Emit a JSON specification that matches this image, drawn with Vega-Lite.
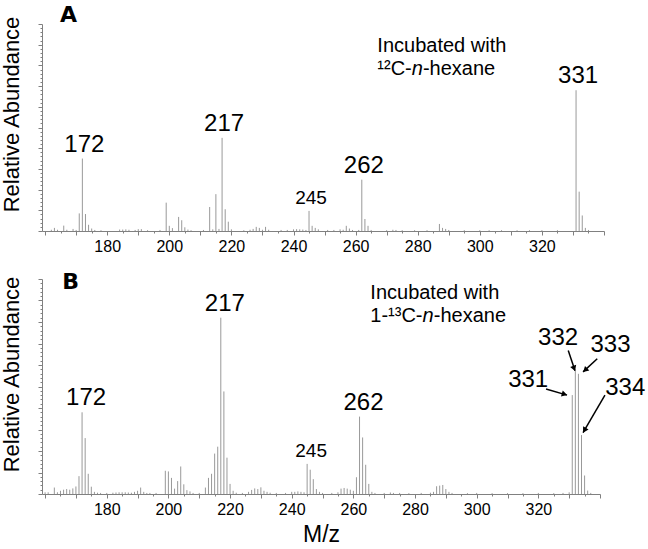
{
  "$schema": "https://vega.github.io/schema/vega-lite/v6.json",
  "padding": {"left": 0, "top": 3, "right": 0, "bottom": 0},
  "spacing": 17,
  "config": {
    "font": "Liberation Sans",
    "view": {"stroke": null},
    "axis": {"grid": false, "domainColor": "#808080", "tickColor": "#808080", "labelColor": "#000000", "titleColor": "#000000", "titleFontWeight": "normal", "labelFont": "Liberation Sans", "titleFont": "Liberation Sans", "labelFlush": false, "labelOverlap": false},
    "text": {"font": "Liberation Sans", "color": "#000000"}
  },
  "datasets": {
    "peaksA": [
      {"mz":162,"ab":0.6},{"mz":163,"ab":1.5},{"mz":164,"ab":0.6},{"mz":166,"ab":2.6},{"mz":167,"ab":0.6},{"mz":169,"ab":1},{"mz":170,"ab":0.5},{"mz":171,"ab":8.5},{"mz":172,"ab":35},{"mz":173,"ab":8.2},{"mz":174,"ab":3},{"mz":175,"ab":1.2},{"mz":176,"ab":0.5},{"mz":178,"ab":0.4},{"mz":184,"ab":0.7},{"mz":185,"ab":0.7},{"mz":186,"ab":0.8},{"mz":187,"ab":0.6},{"mz":189,"ab":0.5},{"mz":190,"ab":0.9},{"mz":191,"ab":0.9},{"mz":193,"ab":0.4},{"mz":197,"ab":0.5},{"mz":199,"ab":13.7},{"mz":200,"ab":2.5},{"mz":201,"ab":1.4},{"mz":203,"ab":6.8},{"mz":204,"ab":5.2},{"mz":205,"ab":1.8},{"mz":206,"ab":0.7},{"mz":207,"ab":0.4},{"mz":211,"ab":0.5},{"mz":213,"ab":11.6},{"mz":214,"ab":0.8},{"mz":215,"ab":17.8},{"mz":216,"ab":1},{"mz":217,"ab":45},{"mz":218,"ab":10.5},{"mz":219,"ab":4.5},{"mz":220,"ab":0.8},{"mz":224,"ab":0.4},{"mz":226,"ab":0.6},{"mz":227,"ab":1},{"mz":228,"ab":2},{"mz":229,"ab":1.5},{"mz":230,"ab":0.6},{"mz":231,"ab":2},{"mz":232,"ab":0.6},{"mz":236,"ab":0.5},{"mz":238,"ab":0.5},{"mz":240,"ab":0.8},{"mz":241,"ab":0.9},{"mz":242,"ab":0.8},{"mz":243,"ab":0.7},{"mz":244,"ab":0.5},{"mz":245,"ab":9.7},{"mz":246,"ab":2.5},{"mz":247,"ab":1.5},{"mz":248,"ab":0.8},{"mz":251,"ab":0.5},{"mz":253,"ab":0.5},{"mz":255,"ab":0.8},{"mz":256,"ab":0.6},{"mz":257,"ab":2.5},{"mz":258,"ab":1.2},{"mz":259,"ab":0.5},{"mz":261,"ab":0.5},{"mz":262,"ab":24.8},{"mz":263,"ab":5.8},{"mz":264,"ab":2.5},{"mz":265,"ab":0.5},{"mz":270,"ab":0.4},{"mz":272,"ab":0.6},{"mz":273,"ab":0.5},{"mz":275,"ab":0.4},{"mz":279,"ab":0.4},{"mz":283,"ab":0.4},{"mz":287,"ab":3.4},{"mz":288,"ab":1.5},{"mz":289,"ab":1},{"mz":290,"ab":0.5},{"mz":295,"ab":0.4},{"mz":300,"ab":0.4},{"mz":303,"ab":0.4},{"mz":307,"ab":0.4},{"mz":312,"ab":0.4},{"mz":316,"ab":0.4},{"mz":320,"ab":0.4},{"mz":325,"ab":0.4},{"mz":331,"ab":68},{"mz":332,"ab":19},{"mz":333,"ab":7.5},{"mz":334,"ab":1.5},{"mz":335,"ab":0.5}
    ],
    "peaksB": [
      {"mz":160,"ab":0.8},{"mz":161,"ab":0.8},{"mz":163,"ab":3},{"mz":164,"ab":0.8},{"mz":165,"ab":1.5},{"mz":166,"ab":2},{"mz":167,"ab":2.3},{"mz":168,"ab":2},{"mz":169,"ab":2.6},{"mz":170,"ab":3.5},{"mz":171,"ab":8.3},{"mz":172,"ab":38},{"mz":173,"ab":26},{"mz":174,"ab":9.4},{"mz":175,"ab":3.4},{"mz":176,"ab":1},{"mz":177,"ab":0.6},{"mz":178,"ab":0.5},{"mz":180,"ab":0.5},{"mz":182,"ab":0.6},{"mz":183,"ab":0.7},{"mz":184,"ab":0.8},{"mz":185,"ab":0.8},{"mz":186,"ab":0.8},{"mz":187,"ab":0.7},{"mz":188,"ab":0.6},{"mz":189,"ab":1},{"mz":190,"ab":1.5},{"mz":191,"ab":3},{"mz":192,"ab":1},{"mz":193,"ab":0.5},{"mz":194,"ab":0.5},{"mz":196,"ab":0.5},{"mz":199,"ab":10.8},{"mz":200,"ab":10.5},{"mz":201,"ab":7.5},{"mz":202,"ab":2.5},{"mz":203,"ab":6},{"mz":204,"ab":12.8},{"mz":205,"ab":4.5},{"mz":206,"ab":1.8},{"mz":207,"ab":1.2},{"mz":208,"ab":0.5},{"mz":210,"ab":0.5},{"mz":212,"ab":3},{"mz":213,"ab":7.5},{"mz":214,"ab":9.4},{"mz":215,"ab":18.8},{"mz":216,"ab":22},{"mz":217,"ab":82},{"mz":218,"ab":47.7},{"mz":219,"ab":16.9},{"mz":220,"ab":4.7},{"mz":221,"ab":1.5},{"mz":222,"ab":0.6},{"mz":224,"ab":0.5},{"mz":226,"ab":1},{"mz":227,"ab":1.9},{"mz":228,"ab":2.6},{"mz":229,"ab":2.3},{"mz":230,"ab":3.1},{"mz":231,"ab":1.5},{"mz":232,"ab":1},{"mz":233,"ab":0.6},{"mz":235,"ab":0.5},{"mz":238,"ab":0.5},{"mz":240,"ab":1},{"mz":241,"ab":1},{"mz":242,"ab":1.2},{"mz":243,"ab":1},{"mz":244,"ab":0.8},{"mz":245,"ab":14},{"mz":246,"ab":11.3},{"mz":247,"ab":6.9},{"mz":248,"ab":2.3},{"mz":249,"ab":1},{"mz":250,"ab":0.5},{"mz":253,"ab":0.5},{"mz":255,"ab":0.8},{"mz":256,"ab":2.5},{"mz":257,"ab":2.8},{"mz":258,"ab":2.5},{"mz":259,"ab":2},{"mz":260,"ab":1.5},{"mz":261,"ab":7.8},{"mz":262,"ab":36},{"mz":263,"ab":26.3},{"mz":264,"ab":13.6},{"mz":265,"ab":4.7},{"mz":266,"ab":1},{"mz":267,"ab":0.5},{"mz":270,"ab":0.5},{"mz":272,"ab":0.7},{"mz":273,"ab":0.5},{"mz":275,"ab":0.5},{"mz":278,"ab":0.4},{"mz":282,"ab":0.5},{"mz":285,"ab":0.6},{"mz":286,"ab":1},{"mz":287,"ab":3.6},{"mz":288,"ab":3.9},{"mz":289,"ab":4.2},{"mz":290,"ab":2.3},{"mz":291,"ab":1},{"mz":292,"ab":0.5},{"mz":297,"ab":0.4},{"mz":300,"ab":0.5},{"mz":305,"ab":0.4},{"mz":310,"ab":0.4},{"mz":315,"ab":0.4},{"mz":320,"ab":0.5},{"mz":325,"ab":0.4},{"mz":328,"ab":0.5},{"mz":330,"ab":0.8},{"mz":331,"ab":46},{"mz":332,"ab":57.4},{"mz":333,"ab":55.9},{"mz":334,"ab":27.4},{"mz":335,"ab":8.6},{"mz":336,"ab":1.6},{"mz":337,"ab":0.5}
    ],
    "labelsA": [
      {"mz":172,"ab":35,"label":"172"},{"mz":217,"ab":45,"label":"217"},{"mz":245,"ab":9.7,"label":"245"},{"mz":262,"ab":24.8,"label":"262"},{"mz":331,"ab":68,"label":"331"}
    ],
    "labelsB": [
      {"mz":172,"ab":38,"label":"172"},{"mz":217,"ab":82,"label":"217"},{"mz":245,"ab":14,"label":"245"},{"mz":262,"ab":36,"label":"262"}
    ],
    "panelA": [{"mz":164.8,"ab":101,"t":"A"}],
    "panelB": [{"mz":165.6,"ab":95.3,"t":"B"}],
    "noteA": [{"mz":267,"ab1":86.5,"ab2":75.4,"l1":"Incubated with","pre":"¹²C-","it":"n","post":"-hexane"}],
    "noteB": [{"mz":265.5,"ab1":90.6,"ab2":79.8,"l1":"Incubated with","pre":"1-¹³C-","it":"n","post":"-hexane"}],
    "arrowsB": [
      {"label":"331","lx":316.7,"ly":49.8,"x1":322.5,"y1":48.8,"x2":329.3,"y2":46.0,"hx":328.2,"hy":46.5},
      {"label":"332","lx":326.4,"ly":69.5,"x1":329.7,"y1":66.7,"x2":331.9,"y2":57.3,"hx":331.5,"hy":58.8},
      {"label":"333","lx":343.4,"ly":66.2,"x1":339.1,"y1":62.9,"x2":334.5,"y2":56.8,"hx":335.4,"hy":57.9},
      {"label":"334","lx":348.2,"ly":46.0,"x1":341.6,"y1":46.0,"x2":334.5,"y2":28.6,"hx":335.1,"hy":30.0}
    ]
  },
  "vconcat": [
    {
      "width": 562,
      "height": 207,
      "resolve": {"axis": {"x": "independent", "y": "independent"}},
      "layer": [
        {
          "data": {"name": "peaksA"},
          "mark": {"type": "rule", "color": "#999999", "strokeWidth": 1},
          "encoding": {
            "x": {"field": "mz", "type": "quantitative", "scale": {"domain": [159, 340], "nice": false, "zero": false},
                  "axis": {"orient": "bottom", "values": [160,170,180,190,200,210,220,230,240,250,260,270,280,290,300,310,320,330,340], "labelExpr": "datum.value % 20 == 0 && datum.value >= 180 && datum.value <= 320 ? datum.label : ''", "labelFontSize": 16, "tickSize": 4, "labelPadding": 3, "title": null}},
            "y": {"field": "ab", "type": "quantitative", "scale": {"domain": [0, 100], "nice": false},
                  "axis": {"orient": "left", "values": [0,10,20,30,40,50,60,70,80,90,100], "labels": false, "tickSize": 4, "title": "Relative Abundance", "titleFontSize": 22, "titlePadding": 14, "titleY": 90}},
            "y2": {"datum": 0}
          }
        },
        {
          "data": {"name": "peaksA"},
          "mark": {"type": "rule", "opacity": 0},
          "encoding": {
            "x": {"field": "mz", "type": "quantitative", "axis": {"orient": "bottom", "values": [165,175,185,195,205,215,225,235,245,255,265,275,285,295,305,315,325,335], "labels": false, "domain": false, "tickSize": 2, "title": null}},
            "y": {"field": "ab", "type": "quantitative", "axis": {"orient": "left", "values": [2,4,6,8,12,14,16,18,22,24,26,28,32,34,36,38,42,44,46,48,52,54,56,58,62,64,66,68,72,74,76,78,82,84,86,88,92,94,96,98], "labels": false, "domain": false, "tickSize": 2, "title": null}}
          }
        },
        {
          "data": {"name": "labelsA"},
          "mark": {"type": "text", "dy": -7, "dx": 2, "baseline": "alphabetic", "align": "center"},
          "encoding": {
            "x": {"field": "mz", "type": "quantitative", "axis": null},
            "y": {"field": "ab", "type": "quantitative", "axis": null},
            "text": {"field": "label"},
            "size": {"condition": {"test": "datum.label == '245'", "value": 19}, "value": 24}
          }
        },
        {
          "data": {"name": "panelA"},
          "mark": {"type": "text", "font": "DejaVu Sans", "fontSize": 22, "fontWeight": "bold", "align": "left", "baseline": "alphabetic"},
          "encoding": {"x": {"field": "mz", "type": "quantitative", "axis": null}, "y": {"field": "ab", "type": "quantitative", "axis": null}, "text": {"field": "t"}}
        },
        {
          "data": {"name": "noteA"},
          "mark": {"type": "text", "fontSize": 20, "align": "left", "baseline": "alphabetic"},
          "encoding": {"x": {"field": "mz", "type": "quantitative", "axis": null}, "y": {"field": "ab1", "type": "quantitative", "axis": null}, "text": {"field": "l1"}}
        },
        {
          "data": {"name": "noteA"},
          "mark": {"type": "text", "fontSize": 20, "align": "left", "baseline": "alphabetic"},
          "encoding": {"x": {"field": "mz", "type": "quantitative", "axis": null}, "y": {"field": "ab2", "type": "quantitative", "axis": null}, "text": {"field": "pre"}}
        },
        {
          "data": {"name": "noteA"},
          "mark": {"type": "text", "fontSize": 20, "fontStyle": "italic", "align": "left", "baseline": "alphabetic", "dx": 34.4},
          "encoding": {"x": {"field": "mz", "type": "quantitative", "axis": null}, "y": {"field": "ab2", "type": "quantitative", "axis": null}, "text": {"field": "it"}}
        },
        {
          "data": {"name": "noteA"},
          "mark": {"type": "text", "fontSize": 20, "align": "left", "baseline": "alphabetic", "dx": 45.6},
          "encoding": {"x": {"field": "mz", "type": "quantitative", "axis": null}, "y": {"field": "ab2", "type": "quantitative", "axis": null}, "text": {"field": "post"}}
        }
      ]
    },
    {
      "width": 558,
      "height": 215,
      "resolve": {"axis": {"x": "independent", "y": "independent"}},
      "layer": [
        {
          "data": {"name": "peaksB"},
          "mark": {"type": "rule", "color": "#999999", "strokeWidth": 1},
          "encoding": {
            "x": {"field": "mz", "type": "quantitative", "scale": {"domain": [159, 340], "nice": false, "zero": false},
                  "axis": {"orient": "bottom", "values": [160,170,180,190,200,210,220,230,240,250,260,270,280,290,300,310,320,330,340], "labelExpr": "datum.value % 20 == 0 && datum.value >= 180 && datum.value <= 320 ? datum.label : ''", "labelFontSize": 16, "tickSize": 4, "labelPadding": 3, "title": "M/z", "titleFontSize": 23, "titlePadding": 6}},
            "y": {"field": "ab", "type": "quantitative", "scale": {"domain": [0, 100], "nice": false},
                  "axis": {"orient": "left", "values": [0,10,20,30,40,50,60,70,80,90,100], "labels": false, "tickSize": 4, "title": "Relative Abundance", "titleFontSize": 22, "titlePadding": 14, "titleY": 95}},
            "y2": {"datum": 0}
          }
        },
        {
          "data": {"name": "peaksB"},
          "mark": {"type": "rule", "opacity": 0},
          "encoding": {
            "x": {"field": "mz", "type": "quantitative", "axis": {"orient": "bottom", "values": [165,175,185,195,205,215,225,235,245,255,265,275,285,295,305,315,325,335], "labels": false, "domain": false, "tickSize": 2, "title": null}},
            "y": {"field": "ab", "type": "quantitative", "axis": {"orient": "left", "values": [2,4,6,8,12,14,16,18,22,24,26,28,32,34,36,38,42,44,46,48,52,54,56,58,62,64,66,68,72,74,76,78,82,84,86,88,92,94,96,98], "labels": false, "domain": false, "tickSize": 2, "title": null}}
          }
        },
        {
          "data": {"name": "labelsB"},
          "mark": {"type": "text", "dy": -7, "dx": 4, "baseline": "alphabetic", "align": "center"},
          "encoding": {
            "x": {"field": "mz", "type": "quantitative", "axis": null},
            "y": {"field": "ab", "type": "quantitative", "axis": null},
            "text": {"field": "label"},
            "size": {"condition": {"test": "datum.label == '245'", "value": 19}, "value": 24}
          }
        },
        {
          "data": {"name": "arrowsB"},
          "mark": {"type": "text", "fontSize": 24, "baseline": "alphabetic", "align": "center"},
          "encoding": {"x": {"field": "lx", "type": "quantitative", "axis": null}, "y": {"field": "ly", "type": "quantitative", "axis": null}, "text": {"field": "label"}}
        },
        {
          "data": {"name": "arrowsB"},
          "mark": {"type": "rule", "color": "#000000", "strokeWidth": 1.5},
          "encoding": {"x": {"field": "x1", "type": "quantitative", "axis": null}, "y": {"field": "y1", "type": "quantitative", "axis": null}, "x2": {"field": "x2"}, "y2": {"field": "y2"}}
        },
        {
          "data": {"name": "arrowsB"},
          "transform": [{"filter": "datum.label == '331'"}],
          "mark": {"type": "point", "shape": "triangle", "filled": true, "fill": "#000000", "stroke": null, "size": 40, "opacity": 1, "angle": 106.7},
          "encoding": {"x": {"field": "hx", "type": "quantitative", "axis": null}, "y": {"field": "hy", "type": "quantitative", "axis": null}}
        },
        {
          "data": {"name": "arrowsB"},
          "transform": [{"filter": "datum.label == '332'"}],
          "mark": {"type": "point", "shape": "triangle", "filled": true, "fill": "#000000", "stroke": null, "size": 40, "opacity": 1, "angle": 160.7},
          "encoding": {"x": {"field": "hx", "type": "quantitative", "axis": null}, "y": {"field": "hy", "type": "quantitative", "axis": null}}
        },
        {
          "data": {"name": "arrowsB"},
          "transform": [{"filter": "datum.label == '333'"}],
          "mark": {"type": "point", "shape": "triangle", "filled": true, "fill": "#000000", "stroke": null, "size": 40, "opacity": 1, "angle": 227},
          "encoding": {"x": {"field": "hx", "type": "quantitative", "axis": null}, "y": {"field": "hy", "type": "quantitative", "axis": null}}
        },
        {
          "data": {"name": "arrowsB"},
          "transform": [{"filter": "datum.label == '334'"}],
          "mark": {"type": "point", "shape": "triangle", "filled": true, "fill": "#000000", "stroke": null, "size": 40, "opacity": 1, "angle": 210.7},
          "encoding": {"x": {"field": "hx", "type": "quantitative", "axis": null}, "y": {"field": "hy", "type": "quantitative", "axis": null}}
        },
        {
          "data": {"name": "panelB"},
          "mark": {"type": "text", "font": "DejaVu Sans", "fontSize": 22, "fontWeight": "bold", "align": "left", "baseline": "alphabetic"},
          "encoding": {"x": {"field": "mz", "type": "quantitative", "axis": null}, "y": {"field": "ab", "type": "quantitative", "axis": null}, "text": {"field": "t"}}
        },
        {
          "data": {"name": "noteB"},
          "mark": {"type": "text", "fontSize": 20, "align": "left", "baseline": "alphabetic"},
          "encoding": {"x": {"field": "mz", "type": "quantitative", "axis": null}, "y": {"field": "ab1", "type": "quantitative", "axis": null}, "text": {"field": "l1"}}
        },
        {
          "data": {"name": "noteB"},
          "mark": {"type": "text", "fontSize": 20, "align": "left", "baseline": "alphabetic"},
          "encoding": {"x": {"field": "mz", "type": "quantitative", "axis": null}, "y": {"field": "ab2", "type": "quantitative", "axis": null}, "text": {"field": "pre"}}
        },
        {
          "data": {"name": "noteB"},
          "mark": {"type": "text", "fontSize": 20, "fontStyle": "italic", "align": "left", "baseline": "alphabetic", "dx": 52.2},
          "encoding": {"x": {"field": "mz", "type": "quantitative", "axis": null}, "y": {"field": "ab2", "type": "quantitative", "axis": null}, "text": {"field": "it"}}
        },
        {
          "data": {"name": "noteB"},
          "mark": {"type": "text", "fontSize": 20, "align": "left", "baseline": "alphabetic", "dx": 63.4},
          "encoding": {"x": {"field": "mz", "type": "quantitative", "axis": null}, "y": {"field": "ab2", "type": "quantitative", "axis": null}, "text": {"field": "post"}}
        }
      ]
    }
  ]
}
